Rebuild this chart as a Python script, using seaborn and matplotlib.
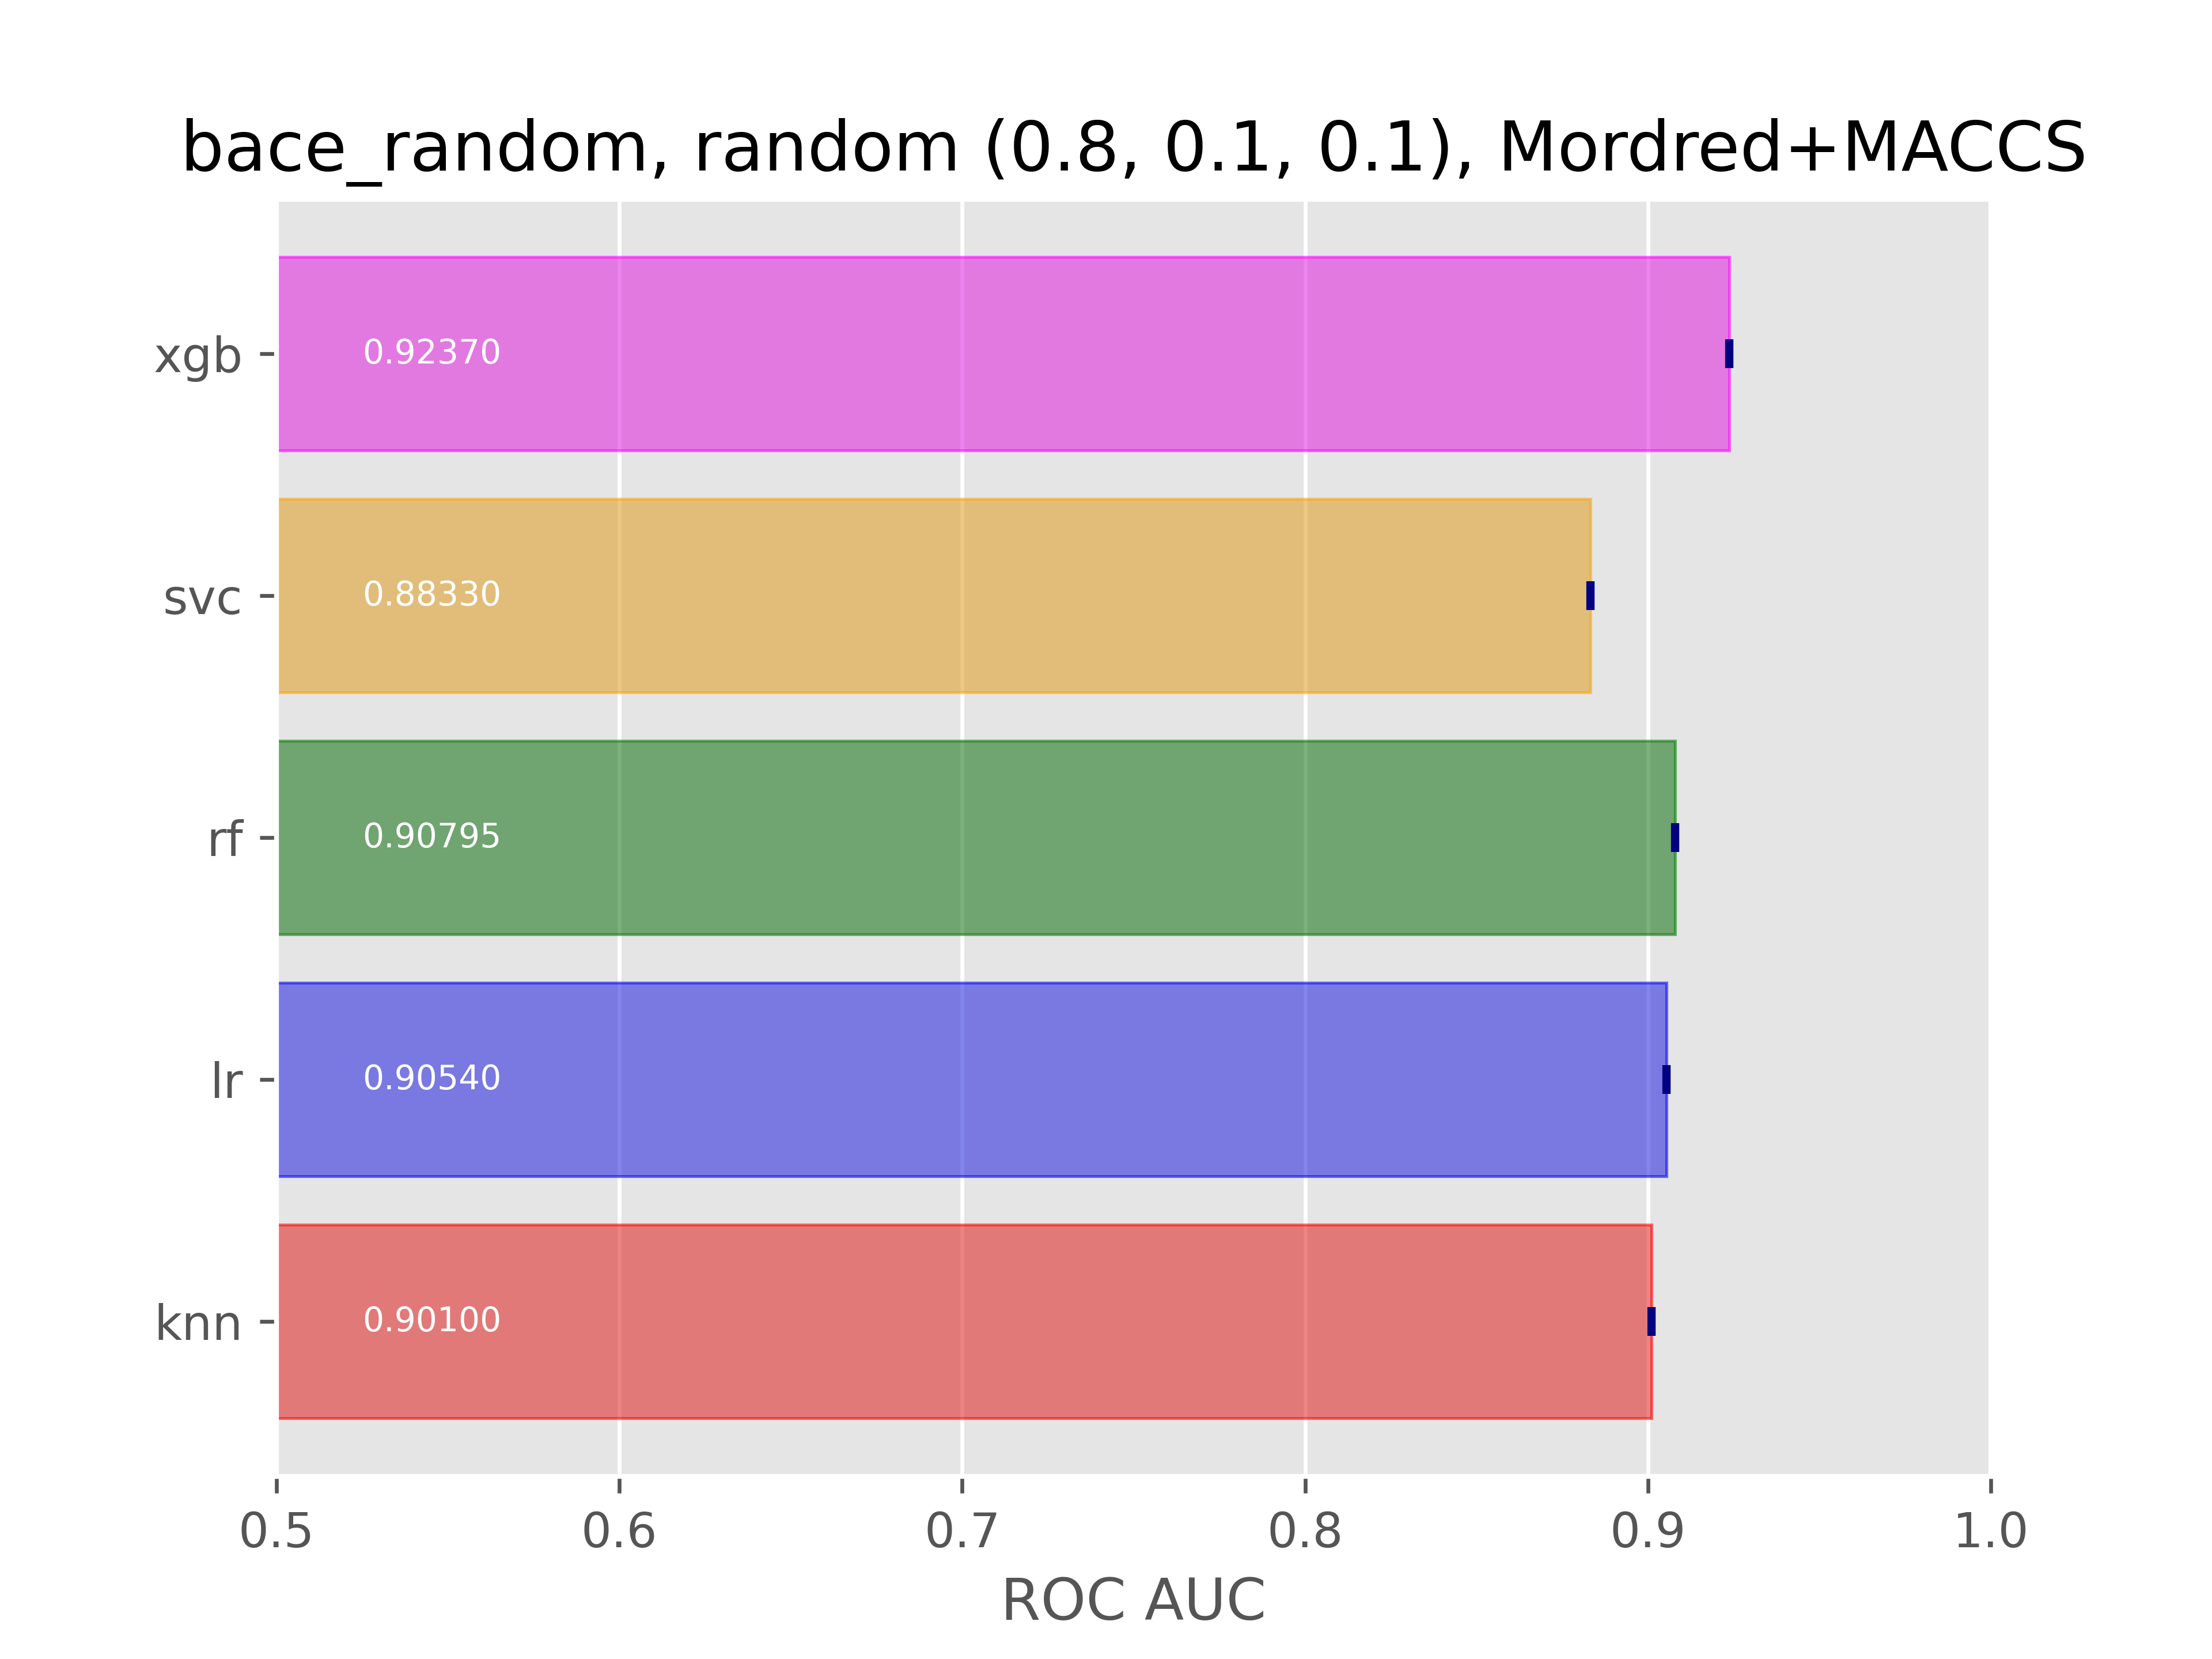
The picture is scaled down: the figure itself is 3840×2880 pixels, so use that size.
import matplotlib
matplotlib.use("Agg")
import matplotlib.pyplot as plt
import seaborn as sns
import pandas as pd

plt.style.use("ggplot")

models = ["xgb", "svc", "rf", "lr", "knn"]
scores = [0.92370, 0.88330, 0.90795, 0.90540, 0.90100]
errors = [0.0005, 0.0005, 0.0005, 0.0005, 0.0005]
colors = ["magenta", "orange", "green", "blue", "red"]

df = pd.DataFrame({"model": models, "auc": scores})

fig, ax = plt.subplots(figsize=(6.4, 4.8), dpi=600)
sns.barplot(data=df, x="auc", y="model", order=models, hue="model",
            palette=colors, orient="h", width=0.8, alpha=0.55,
            errorbar=None, legend=False, ax=ax)
for patch, c in zip(ax.patches, colors):
    patch.set_edgecolor(c)
    patch.set_linewidth(0.6)
ax.errorbar(scores, range(len(models)), xerr=errors, fmt="none",
            ecolor="navy", elinewidth=1, capsize=3, capthick=1)
for i, s in enumerate(scores):
    ax.text(0.525, i, f"{s:.5f}", color="white", va="center", fontsize=7)

ax.set_xlim(0.5, 1.0)
ax.set_xlabel("ROC AUC")
ax.set_ylabel("")
ax.set_title("bace_random, random (0.8, 0.1, 0.1), Mordred+MACCS")
fig.savefig("out.png", dpi=600)
